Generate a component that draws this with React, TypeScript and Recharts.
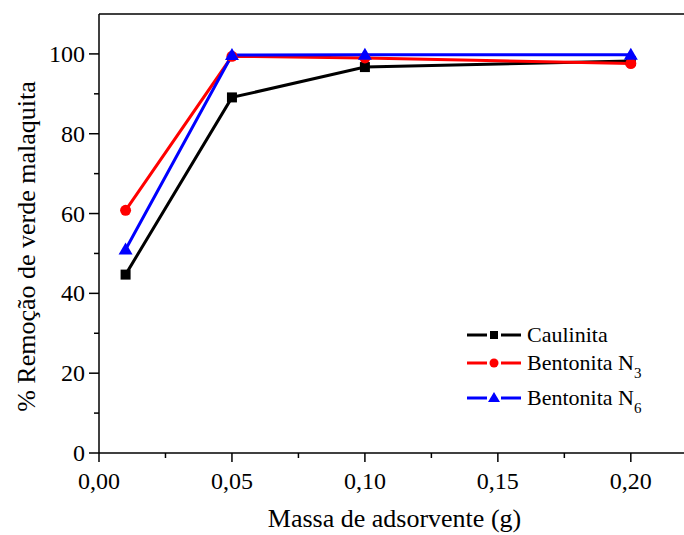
import React from "react";
import { LineChart, Line, XAxis, YAxis } from "recharts";

const massa = [0.01, 0.05, 0.1, 0.2];
const caulinita = [44.7, 89.1, 96.7, 98.2];
const bentonitaN3 = [60.8, 99.4, 99.0, 97.6];
const bentonitaN6 = [51.0, 99.7, 99.8, 99.8];

// every tick; the labelled ones are listed separately
const xTicks = [0, 0.025, 0.05, 0.075, 0.1, 0.125, 0.15, 0.175, 0.2];
const xLabelled = [0, 0.05, 0.1, 0.15, 0.2];
const yTicks = [0, 10, 20, 30, 40, 50, 60, 70, 80, 90, 100];
const yLabelled = [0, 20, 40, 60, 80, 100];

const data = massa.map((m, i) => ({
  massa: m,
  caulinita: caulinita[i],
  n3: bentonitaN3[i],
  n6: bentonitaN6[i],
}));

const FONT = "'Liberation Serif', 'Times New Roman', serif";

const near = (list: number[], v: number) => list.some((t) => Math.abs(t - v) < 1e-6);

const XTick = (props: any) => {
  const { x, y, payload } = props;
  const major = near(xLabelled, payload.value);
  return (
    <g>
      <line x1={x} x2={x} y1={y} y2={y + (major ? 9 : 5)} stroke="#000" strokeWidth={1.5} />
      {major && (
        <text
          x={x}
          y={y + 36}
          textAnchor="middle"
          fill="#000"
          style={{ fontFamily: FONT, fontSize: 24 }}
        >
          {payload.value.toFixed(2).replace(".", ",")}
        </text>
      )}
    </g>
  );
};

const YTick = (props: any) => {
  const { x, y, payload } = props;
  const major = near(yLabelled, payload.value);
  return (
    <g>
      <line x1={x} x2={x - (major ? 10 : 5)} y1={y} y2={y} stroke="#000" strokeWidth={1.5} />
      {major && (
        <text
          x={x - 14}
          y={y + 8}
          textAnchor="end"
          fill="#000"
          style={{ fontFamily: FONT, fontSize: 24 }}
        >
          {payload.value}
        </text>
      )}
    </g>
  );
};

const SquareDot = (props: any) => {
  const { cx, cy, fill } = props;
  if (cx == null || cy == null) return null;
  return <rect x={cx - 5} y={cy - 5} width={10} height={10} fill={fill} />;
};

const TriangleDot = (props: any) => {
  const { cx, cy, fill } = props;
  if (cx == null || cy == null) return null;
  return (
    <polygon
      points={`${cx},${cy - 7} ${cx - 7},${cy + 5} ${cx + 7},${cy + 5}`}
      fill={fill}
    />
  );
};

const legendRows = [
  { name: "Caulinita", sub: "", color: "#000000", shape: "square" },
  { name: "Bentonita N", sub: "3", color: "#ff0000", shape: "circle" },
  { name: "Bentonita N", sub: "6", color: "#0000ff", shape: "triangle" },
];

const CustomLegend = () => (
  <svg
    width={210}
    height={110}
    style={{ position: "absolute", left: 467, top: 320, overflow: "visible" }}
  >
    {legendRows.map((r, i) => {
      const cy = [15, 43, 78][i];
      return (
        <g key={r.name + r.sub}>
          <line x1={0} x2={20} y1={cy} y2={cy} stroke={r.color} strokeWidth={3} />
          <line x1={34} x2={54} y1={cy} y2={cy} stroke={r.color} strokeWidth={3} />
          {r.shape === "square" && (
            <rect x={23} y={cy - 4} width={8} height={8} fill={r.color} />
          )}
          {r.shape === "circle" && <circle cx={27} cy={cy} r={4.5} fill={r.color} />}
          {r.shape === "triangle" && (
            <polygon points={`27,${cy - 6} 21,${cy + 4} 33,${cy + 4}`} fill={r.color} />
          )}
          <text x={60} y={cy + 7} fill="#000" style={{ fontFamily: FONT, fontSize: 22 }}>
            {r.name}
            {r.sub && (
              <tspan dy={8} style={{ fontSize: 15 }}>
                {r.sub}
              </tspan>
            )}
          </text>
        </g>
      );
    })}
  </svg>
);

const YTitle = (props: any) => {
  const { viewBox } = props;
  const cx = 26;
  const cy = viewBox.y + viewBox.height / 2 + 13;
  return (
    <text
      x={cx}
      y={cy}
      transform={`rotate(-90 ${cx} ${cy})`}
      textAnchor="middle"
      dominantBaseline="central"
      fill="#000"
      style={{ fontFamily: FONT, fontSize: 26 }}
    >
      % Remoção de verde malaquita
    </text>
  );
};

const XTitle = (props: any) => {
  const { viewBox } = props;
  return (
    <text
      x={viewBox.x + viewBox.width / 2 + 3}
      y={527}
      textAnchor="middle"
      fill="#000"
      style={{ fontFamily: FONT, fontSize: 26 }}
    >
      Massa de adsorvente (g)
    </text>
  );
};

export default function App() {
  return (
    <div
      style={{
        position: "relative",
        width: 684,
        height: 535,
        background: "#fff",
        fontFamily: FONT,
      }}
    >
      <style>{`body{margin:0}`}</style>
      <LineChart
        width={684}
        height={535}
        data={data}
        margin={{ top: 0, right: 0, bottom: 0, left: 0 }}
      >
        <XAxis
          xAxisId="top"
          orientation="top"
          dataKey="massa"
          type="number"
          domain={[0, 0.22]}
          height={14}
          tick={false}
          tickLine={false}
          axisLine={{ stroke: "#000", strokeWidth: 1.5 }}
        />
        <XAxis
          xAxisId={0}
          dataKey="massa"
          type="number"
          domain={[0, 0.22]}
          ticks={xTicks}
          interval={0}
          height={82}
          tickSize={0}
          tickMargin={0}
          tick={<XTick />}
          tickLine={false}
          axisLine={{ stroke: "#000", strokeWidth: 1.5 }}
          label={<XTitle />}
        />
        <YAxis
          yAxisId={0}
          type="number"
          domain={[0, 110]}
          ticks={yTicks}
          interval={0}
          width={99}
          tickSize={0}
          tickMargin={0}
          tick={<YTick />}
          tickLine={false}
          axisLine={{ stroke: "#000", strokeWidth: 1.5 }}
          label={<YTitle />}
        />
        <Line
          dataKey="caulinita"
          name="Caulinita"
          stroke="#000000"
          strokeWidth={3}
          fill="#000000"
          dot={<SquareDot />}
          isAnimationActive={false}
        />
        <Line
          dataKey="n3"
          name="Bentonita N3"
          stroke="#ff0000"
          strokeWidth={3}
          fill="#ff0000"
          dot={{ r: 5.5, fill: "#ff0000", stroke: "#ff0000", strokeWidth: 0 }}
          isAnimationActive={false}
        />
        <Line
          dataKey="n6"
          name="Bentonita N6"
          stroke="#0000ff"
          strokeWidth={3}
          fill="#0000ff"
          dot={<TriangleDot />}
          isAnimationActive={false}
        />
      </LineChart>
      <CustomLegend />
    </div>
  );
}
